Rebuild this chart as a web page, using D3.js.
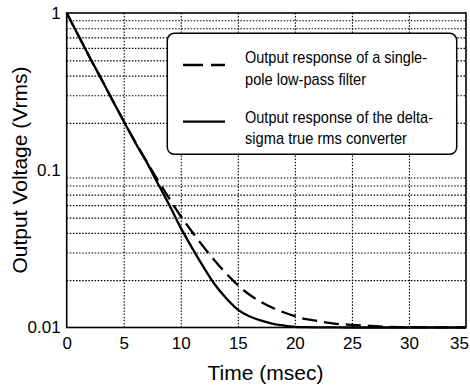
<!DOCTYPE html>
<html>
<head>
<meta charset="utf-8">
<script src="https://cdn.jsdelivr.net/npm/d3@7"></script>
<style>
  html, body { margin: 0; padding: 0; background: #fff; }
  svg { display: block; font-family: "Liberation Sans", Arial, Helvetica, sans-serif; }
</style>
</head>
<body>
<svg id="chart" width="470" height="391"></svg>
<script>
// ---- data ----
const timeMs = [0, 1, 2, 3, 4, 5, 6, 7, 8, 9, 10, 11, 12, 13, 14, 15, 16, 17, 18, 19, 20, 21, 22, 23, 24, 25, 26, 27, 28, 30, 32, 35];
const singlePoleVrms = [1, 0.725, 0.525, 0.385, 0.28, 0.205, 0.152, 0.114, 0.086, 0.066, 0.051, 0.0405, 0.0325, 0.0265, 0.022, 0.0186, 0.0162, 0.0146, 0.0134, 0.0125, 0.0118, 0.0113, 0.011, 0.0107, 0.0105, 0.0104, 0.0103, 0.0102, 0.0101, 0.01005, 0.01002, 0.01];
const deltaSigmaVrms = [1, 0.725, 0.525, 0.385, 0.28, 0.205, 0.15, 0.113, 0.082, 0.06, 0.043, 0.032, 0.0242, 0.0187, 0.0153, 0.013, 0.0118, 0.0111, 0.0106, 0.0103, 0.0101, 0.01005, 0.01003, 0.01002, 0.01001, 0.01, 0.01, 0.01, 0.01, 0.01, 0.01, 0.01];
const xTicks = [0, 5, 10, 15, 20, 25, 30, 35];
const yTickLabels = [0.01, 0.1, 1];
const yGridValues = [0.02, 0.03, 0.04, 0.05, 0.06, 0.07, 0.08, 0.09, 0.2, 0.3, 0.4, 0.5, 0.6, 0.7, 0.8, 0.9];
const xGridValues = [5, 10, 15, 20, 25, 30];
const legendLines = [
  ["Output response of a single-", "pole low-pass filter"],
  ["Output response of the delta-", "sigma true rms converter"]
];
const xLabel = "Time (msec)";
const yLabel = "Output Voltage (Vrms)";

// ---- layout ----
const svg = d3.select("#chart");
const m = { left: 66.7, top: 13, right: 4, bottom: 63.5 };
const W = 470 - m.left - m.right;
const H = 391 - m.top - m.bottom;

const x = d3.scaleLinear().domain([0, 35]).range([0, W]);
const y = d3.scaleLog().domain([0.01, 1]).range([H, 0]);

const g = svg.append("g").attr("transform", `translate(${m.left},${m.top})`);

// grid (dotted)
const gx = g.append("g").attr("transform", `translate(0,${H})`)
  .call(d3.axisBottom(x).tickValues(xGridValues).tickSize(-H).tickFormat(""));
gx.select(".domain").remove();
gx.selectAll("line").attr("stroke", "#000").attr("stroke-width", 1.1).attr("stroke-dasharray", "1.5,1.6");

const gy = g.append("g")
  .call(d3.axisLeft(y).tickValues(yGridValues).tickSize(-W).tickFormat(""));
gy.select(".domain").remove();
gy.selectAll("line").attr("stroke", "#000").attr("stroke-width", 1.1).attr("stroke-dasharray", "1.5,1.6");

// frame
g.append("rect").attr("x", 0).attr("y", 0).attr("width", W).attr("height", H)
  .attr("fill", "none").attr("stroke", "#000").attr("stroke-width", 1.6);

// tick labels
const ax = g.append("g").attr("transform", `translate(0,${H})`)
  .call(d3.axisBottom(x).tickValues(xTicks).tickSize(0).tickPadding(9).tickFormat(d3.format("d")));
ax.select(".domain").remove();
ax.selectAll("text").attr("font-size", 17).attr("fill", "#000")
  .attr("font-family", '"Liberation Sans", Arial, sans-serif').attr("dy", "0.71em")
  .attr("dx", d => d === 35 ? -7 : 0);

const ay = g.append("g")
  .call(d3.axisLeft(y).tickValues(yTickLabels).tickSize(0).tickPadding(6).tickFormat(d => String(d)));
ay.select(".domain").remove();
ay.selectAll("text").attr("font-size", 17).attr("fill", "#000")
  .attr("font-family", '"Liberation Sans", Arial, sans-serif');

// curves
const line = d3.line().x(d => x(d[0])).y(d => y(d[1])).curve(d3.curveMonotoneX);
const dashedData = timeMs.map((t, i) => [t, singlePoleVrms[i]]);
const solidData = timeMs.map((t, i) => [t, deltaSigmaVrms[i]]);

g.append("path").datum(solidData).attr("d", line)
  .attr("fill", "none").attr("stroke", "#000").attr("stroke-width", 2.3);
g.append("path").datum(dashedData).attr("d", line)
  .attr("fill", "none").attr("stroke", "#000").attr("stroke-width", 2.3)
  .attr("stroke-dasharray", "15,7");

// axis titles
svg.append("text").attr("x", 265.5).attr("y", 379.5).attr("text-anchor", "middle")
  .attr("font-size", 21).attr("fill", "#000").text(xLabel);
svg.append("text").attr("transform", "translate(27,170) rotate(-90)").attr("text-anchor", "middle")
  .attr("font-size", 21).attr("fill", "#000").text(yLabel);

// legend
const lg = svg.append("g");
lg.append("rect").attr("x", 167.3).attr("y", 33.3).attr("width", 289.4).attr("height", 121)
  .attr("rx", 7).attr("ry", 7).attr("fill", "#fff").attr("stroke", "#000").attr("stroke-width", 1.5);
const sampleY = [65, 121.7];
const dashes = ["20,8", null];
const textBase = [[63, 84.5], [122.5, 144]];
const textWidths = [[182, 121], [188, 162]];
legendLines.forEach((lines, i) => {
  const l = lg.append("line").attr("x1", 183).attr("x2", 225).attr("y1", sampleY[i]).attr("y2", sampleY[i])
    .attr("stroke", "#000").attr("stroke-width", 2.3);
  if (dashes[i]) l.attr("stroke-dasharray", dashes[i]);
  lines.forEach((t, j) => {
    lg.append("text").attr("x", 245).attr("y", textBase[i][j]).attr("font-size", 17)
      .attr("fill", "#000").attr("textLength", textWidths[i][j]).attr("lengthAdjust", "spacingAndGlyphs").text(t);
  });
});
</script>
</body>
</html>
